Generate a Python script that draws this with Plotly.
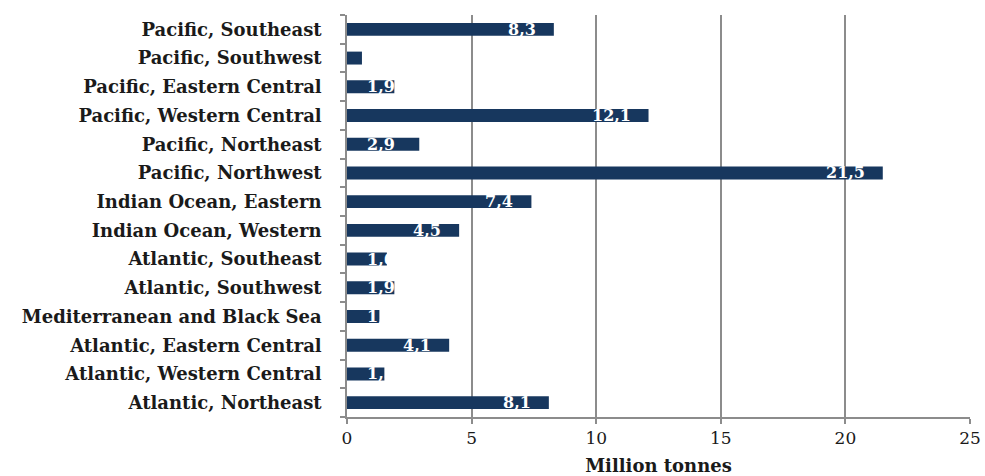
import plotly.graph_objects as go

# Marine capture production by FAO fishing area (million tonnes), top to bottom
areas = [
    "Pacific, Southeast",
    "Pacific, Southwest",
    "Pacific, Eastern Central",
    "Pacific, Western Central",
    "Pacific, Northeast",
    "Pacific, Northwest",
    "Indian Ocean, Eastern",
    "Indian Ocean, Western",
    "Atlantic, Southeast",
    "Atlantic, Southwest",
    "Mediterranean and Black Sea",
    "Atlantic, Eastern Central",
    "Atlantic, Western Central",
    "Atlantic, Northeast",
]
catch_mt = [8.3, 0.6, 1.9, 12.1, 2.9, 21.5, 7.4, 4.5, 1.6, 1.9, 1.3, 4.1, 1.5, 8.1]
x_ticks = [0, 5, 10, 15, 20, 25]

BAR = "#17375e"
GRID = "#8c8c8c"
TXT = "#1a1a1a"
SERIF = "DejaVu Serif, Liberation Serif, serif"

W, H = 985, 476
M = dict(l=347, r=15, t=15, b=59)
XMAX = 25
px_per_unit = (W - M["l"] - M["r"]) / XMAX
LABEL_W = 38  # approximate width of a "d,d" label in px

fig = go.Figure(
    go.Bar(
        x=catch_mt,
        y=areas,
        orientation="h",
        marker=dict(color=BAR, line=dict(width=0)),
        hoverinfo="x+y",
    )
)

# Value labels: white, inside the bar end; short bars keep a fixed start offset
for v, a in zip(catch_mt, areas):
    txt = f"{v:.1f}".replace(".", ",")
    right_edge = v * px_per_unit - 16
    if right_edge - LABEL_W >= 19:
        kw = dict(x=v, xanchor="right", xshift=-16)
    else:
        kw = dict(x=0, xanchor="left", xshift=18)
    fig.add_annotation(
        y=a, text=f"<b>{txt}</b>", showarrow=False, yanchor="middle",
        font=dict(family=SERIF, size=16, color="white"), **kw
    )

fig.update_layout(
    width=W, height=H,
    margin=M,
    paper_bgcolor="white",
    plot_bgcolor="white",
    bargap=0.55,
    showlegend=False,
    font=dict(family=SERIF, color=TXT),
)
fig.update_xaxes(
    range=[0, XMAX],
    tickvals=x_ticks,
    ticktext=[str(t) for t in x_ticks],
    showgrid=True, gridcolor=GRID, gridwidth=1.5,
    showline=True, linecolor=GRID, linewidth=1.5,
    ticks="outside", ticklen=5, tickcolor=GRID, tickwidth=1.5,
    tickfont=dict(family=SERIF, size=17, color=TXT),
    title=dict(text="<b>Million tonnes</b>", font=dict(family=SERIF, size=18, color=TXT), standoff=12),
    zeroline=False,
    automargin=False,
    fixedrange=True,
)
fig.update_yaxes(
    categoryorder="array",
    categoryarray=list(reversed(areas)),
    showline=True, linecolor=GRID, linewidth=1.5,
    ticks="outside", ticklen=5, tickcolor=GRID, tickwidth=1.5,
    tickson="boundaries",
    tickfont=dict(family=SERIF, size=18, color=TXT),
    tickprefix="<b>", ticksuffix="</b>",
    ticklabelstandoff=20,
    showgrid=False,
    automargin=False,
    fixedrange=True,
)

fig.write_html("out.html", config={"displayModeBar": False})
